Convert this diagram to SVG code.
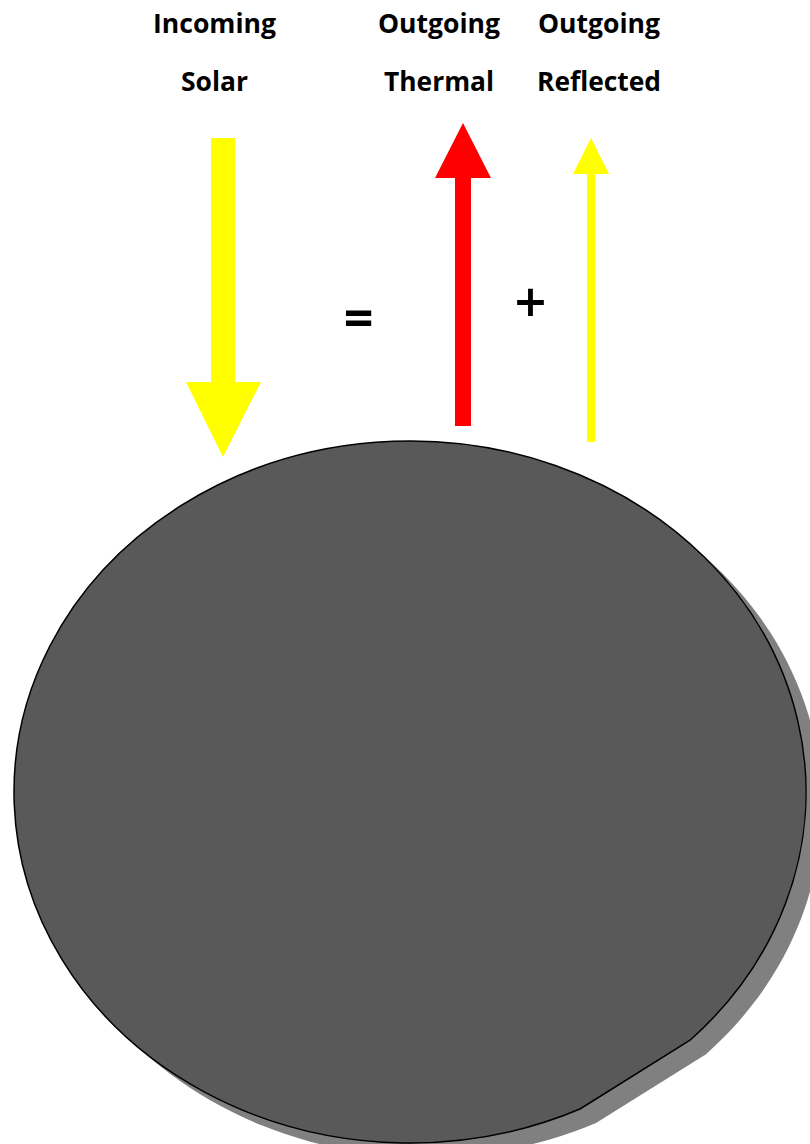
<svg xmlns="http://www.w3.org/2000/svg" width="810" height="1144" viewBox="0 0 810 1144">
<style>
.lbl{font-family:"Open Sans","Noto Sans","Liberation Sans",sans-serif;font-weight:bold;font-size:26px;fill:#000;text-anchor:middle}
.op{font-family:"Open Sans","Noto Sans","Liberation Sans",sans-serif;fill:#000;text-anchor:middle}
</style>
<defs>
<path id="earthShape" d="M 580 1109 A 396 351 0 1 1 690 1040.2 Z"/>
</defs>
<rect width="810" height="1144" fill="#fff"/>
<g id="earth">
<use href="#earthShape" transform="translate(16,14)" fill="#808080"/>
<use href="#earthShape" fill="#595959" stroke="#000" stroke-width="1.5"/>
</g>
<g id="labels">
<text class="lbl" x="214.5" y="33" textLength="123" lengthAdjust="spacingAndGlyphs">Incoming</text>
<text class="lbl" x="214.5" y="91" textLength="67" lengthAdjust="spacingAndGlyphs">Solar</text>
<text class="lbl" x="439" y="33" textLength="122" lengthAdjust="spacingAndGlyphs">Outgoing</text>
<text class="lbl" x="439" y="91" textLength="110" lengthAdjust="spacingAndGlyphs">Thermal</text>
<text class="lbl" x="599" y="33" textLength="122" lengthAdjust="spacingAndGlyphs">Outgoing</text>
<text class="lbl" x="599" y="91" textLength="124" lengthAdjust="spacingAndGlyphs">Reflected</text>
</g>
<g id="operators">
<text class="op" x="358.5" y="337" font-size="52" font-weight="bold">=</text>
<text class="op" x="530.5" y="322" font-size="56" font-weight="600">+</text>
</g>
<g id="connectors">
<polygon id="incoming-solar" fill="#FFFF00" points="211,138 235,138 235,382 261,382 223,457 186,382 211,382"/>
<polygon id="outgoing-thermal" fill="#FF0000" points="455,426 471,426 471,178 491,178 463,123 435,178 455,178"/>
<polygon id="outgoing-reflected" fill="#FFFF00" points="587,442 595,442 595,174 609,174 591,138 573,174 587,174"/>
</g>
</svg>
